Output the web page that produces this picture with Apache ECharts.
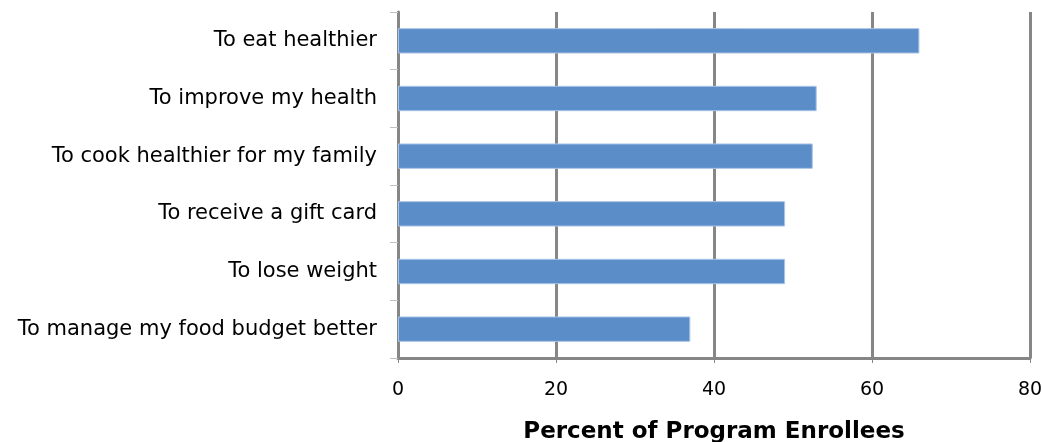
<!DOCTYPE html>
<html>
<head>
<meta charset="utf-8">
<script src="https://cdn.jsdelivr.net/npm/echarts@6/dist/echarts.min.js"></script>
<style>
  html, body { margin: 0; padding: 0; background: #fff; }
  #chart { width: 1042px; height: 442px; }
</style>
</head>
<body>
<div id="chart"></div>
<script>
// categories listed bottom to top (category axis draws first item at the bottom)
const reasons = [
  'To manage my food budget better',
  'To lose weight',
  'To receive a gift card',
  'To cook healthier for my family',
  'To improve my health',
  'To eat healthier'
];
const percents = [37, 49, 49, 52.5, 53, 66];
const xTicks = [0, 20, 40, 60, 80];

const chart = echarts.init(document.getElementById('chart'));

const option = {
  animation: false,
  grid: { left: 398, right: 12, top: 12, bottom: 84, outerBoundsMode: 'none', containLabel: false },
  xAxis: {
    type: 'value',
    min: xTicks[0],
    max: xTicks[xTicks.length - 1],
    interval: xTicks[1] - xTicks[0],
    name: 'Percent of Program Enrollees',
    nameLocation: 'middle',
    nameGap: 63,
    nameTextStyle: { fontFamily: 'DejaVu Sans', fontWeight: 'bold', fontSize: 23, color: '#000' },
    axisLine: { show: true, lineStyle: { color: '#868686', width: 3 } },
    axisTick: { show: true, length: 5, lineStyle: { color: '#868686', width: 1 } },
    axisLabel: { fontFamily: 'DejaVu Sans', fontSize: 19, color: '#000', margin: 23 },
    splitLine: { show: true, lineStyle: { color: '#868686', width: 3 } }
  },
  yAxis: {
    type: 'category',
    data: reasons,
    axisLine: { show: true, lineStyle: { color: '#868686', width: 3 } },
    axisTick: { show: true, length: 8, lineStyle: { color: '#c0c0c0', width: 1 } },
    axisLabel: { fontFamily: 'DejaVu Sans', fontSize: 21, color: '#000', margin: 21 },
    splitLine: { show: false }
  },
  series: [{
    type: 'bar',
    data: percents,
    barWidth: '44%',
    itemStyle: { color: '#5b8dc9', borderColor: '#a9c4e6', borderWidth: 1 }
  }]
};

chart.setOption(option);
</script>
</body>
</html>
